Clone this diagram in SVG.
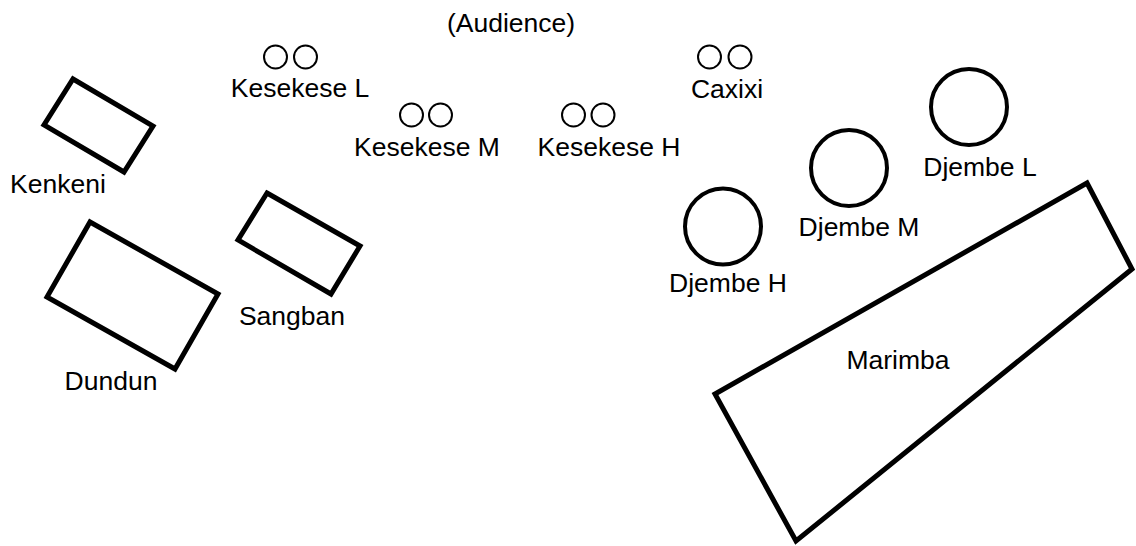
<svg xmlns="http://www.w3.org/2000/svg" width="1136" height="546" viewBox="0 0 1136 546">
  <style>
    text { font-family: "Liberation Sans", Arial, sans-serif; font-size: 26.5px; fill: #000; text-anchor: middle; }
    .box { fill: none; stroke: #000; stroke-width: 5; stroke-linejoin: miter; }
    .drum { fill: none; stroke: #000; stroke-width: 4; }
    .shaker { fill: none; stroke: #000; stroke-width: 2; }
  </style>
  <rect width="1136" height="546" fill="#fff"/>

  <text x="511" y="32">(Audience)</text>

  <g id="kenkeni">
    <polygon class="box" points="73,79 153,126 124,172 44,125"/>
    <text x="58" y="193">Kenkeni</text>
  </g>

  <g id="dundun">
    <polygon class="box" points="90,222 218,294 175,369 47,297"/>
    <text x="111" y="390">Dundun</text>
  </g>

  <g id="sangban">
    <polygon class="box" points="267,193 360,246 331,294 238,240"/>
    <text x="292" y="325">Sangban</text>
  </g>

  <g id="kesekese-l">
    <circle class="shaker" cx="275.5" cy="57" r="11.5"/>
    <circle class="shaker" cx="305.5" cy="57" r="11.5"/>
    <text x="300" y="97">Kesekese L</text>
  </g>

  <g id="kesekese-m">
    <circle class="shaker" cx="411.5" cy="115" r="11.5"/>
    <circle class="shaker" cx="440.5" cy="115" r="11.5"/>
    <text x="427" y="156">Kesekese M</text>
  </g>

  <g id="kesekese-h">
    <circle class="shaker" cx="573.5" cy="115" r="11.5"/>
    <circle class="shaker" cx="603" cy="115" r="11.5"/>
    <text x="609" y="156">Kesekese H</text>
  </g>

  <g id="caxixi">
    <circle class="shaker" cx="709.5" cy="57" r="11.5"/>
    <circle class="shaker" cx="740" cy="57" r="11.5"/>
    <text x="727" y="98">Caxixi</text>
  </g>

  <g id="djembe-l">
    <circle class="drum" cx="969" cy="107" r="38"/>
    <text x="980" y="176">Djembe L</text>
  </g>

  <g id="djembe-m">
    <circle class="drum" cx="849" cy="168" r="38"/>
    <text x="859" y="236">Djembe M</text>
  </g>

  <g id="djembe-h">
    <circle class="drum" cx="723" cy="226.5" r="38"/>
    <text x="728" y="292">Djembe H</text>
  </g>

  <g id="marimba">
    <polygon class="box" points="1087,183 1132,269 796,541 715,394"/>
    <text x="898" y="369">Marimba</text>
  </g>

  <g id="connectors"/>
</svg>
